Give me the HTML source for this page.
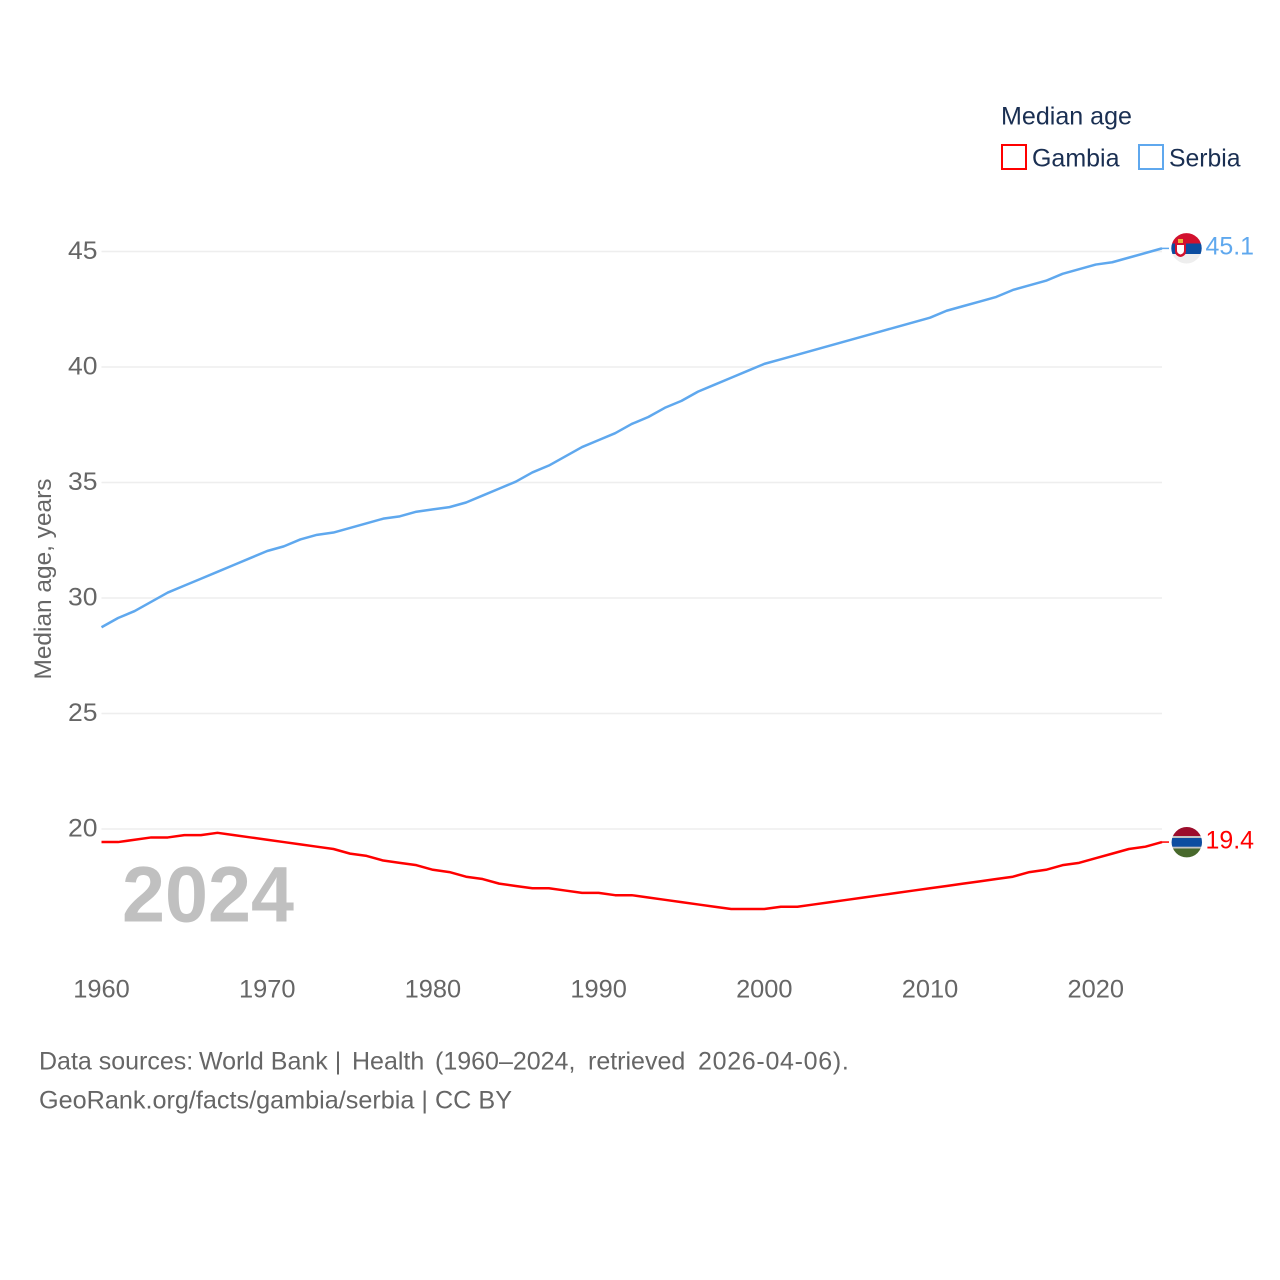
<!DOCTYPE html>
<html>
<head>
<meta charset="utf-8">
<title>Median age: Gambia and Serbia</title>
<style>
html,body{margin:0;padding:0;background:#fff}
svg{display:block}
text{font-family:"Liberation Sans",sans-serif}
</style>
</head>
<body>
<svg id="chart" xmlns="http://www.w3.org/2000/svg" width="1280" height="1280" viewBox="0 0 1280 1280">
  <rect x="0" y="0" width="1280" height="1280" fill="#fff"/>
  <g id="grid"></g>
  <g id="yticks"></g>
  <g id="xticks"></g>
  <text transform="translate(51 679.5) rotate(-90)" font-size="24.5" fill="#666" textLength="201" lengthAdjust="spacingAndGlyphs">Median age, years</text>
  <text x="122" y="921.5" font-size="79" font-weight="bold" fill="#c0c0c0" textLength="172" lengthAdjust="spacingAndGlyphs">2024</text>
  <g id="series"></g>

  <defs>
    <clipPath id="clip-serbia"><circle cx="1186.5" cy="248.3" r="15.2"/></clipPath>
    <clipPath id="clip-gambia"><circle cx="1186.8" cy="842.2" r="15.2"/></clipPath>
  </defs>
  <g clip-path="url(#clip-serbia)">
    <rect x="1171" y="233" width="31" height="10.5" fill="#d2112e"/>
    <rect x="1171" y="243.5" width="31" height="10.5" fill="#0c4da0"/>
    <rect x="1171" y="254" width="31" height="10" fill="#eeeeee"/>
    <path d="M1175 243h11v8q0 5-5.5 6q-5.5-1-5.5-6z" fill="#d2112e"/>
    <path d="M1177 245h7v5.500q0 3-3.500 4q-3.500-1-3.500-4z" fill="#fff"/>
    <rect x="1178" y="239" width="5" height="4" fill="#e8b93c"/>
  </g>
  <g clip-path="url(#clip-gambia)">
    <rect x="1171" y="826" width="32" height="10" fill="#9c0d2c"/>
    <rect x="1171" y="836" width="32" height="12.5" fill="#c4c4c4"/>
    <rect x="1171" y="838" width="32" height="8.7" fill="#0c4da0"/>
    <rect x="1171" y="848.5" width="32" height="10.5" fill="#48692c"/>
  </g>

  <text id="label-serbia" x="1205.5" y="254.5" font-size="25" fill="#5fa8ee" textLength="48.5" lengthAdjust="spacingAndGlyphs"></text>
  <text id="label-gambia" x="1205.5" y="848.5" font-size="25" fill="#ff0000" textLength="48.5" lengthAdjust="spacingAndGlyphs"></text>

  <g>
    <text x="1001" y="124.5" font-size="25" fill="#1a2f52" textLength="131" lengthAdjust="spacingAndGlyphs">Median age</text>
    <g>
      <rect x="1002" y="145" width="24" height="24" fill="#fff" stroke="#ff0000" stroke-width="2"/>
      <text x="1032" y="166.5" font-size="25" fill="#1a2f52" textLength="87.5" lengthAdjust="spacingAndGlyphs">Gambia</text>
    </g>
    <g>
      <rect x="1139" y="145" width="24" height="24" fill="#fff" stroke="#5fa8ee" stroke-width="2"/>
      <text x="1169" y="166.5" font-size="25" fill="#1a2f52" textLength="71.5" lengthAdjust="spacingAndGlyphs">Serbia</text>
    </g>
  </g>

  <text x="39" y="1069.5" font-size="25" fill="#666">Data sources: <tspan x="199">World Bank | </tspan><tspan x="352">Health </tspan><tspan x="435">(1960–2024, </tspan><tspan x="588">retrieved </tspan><tspan x="698" letter-spacing="0.7">2026-04-06).</tspan></text>
  <text x="39" y="1108.5" font-size="25" fill="#666" textLength="473" lengthAdjust="spacingAndGlyphs">GeoRank.org/facts/gambia/serbia | CC BY</text>
</svg>
<script>
const firstYear = 1960;
const xTickLabels = [1960, 1970, 1980, 1990, 2000, 2010, 2020];
const yTickLabels = [20, 25, 30, 35, 40, 45];
const serbiaValues = [28.7,29.1,29.4,29.8,30.2,30.5,30.8,31.1,31.4,31.7,32.0,32.2,32.5,32.7,32.8,33.0,33.2,33.4,33.5,33.7,33.8,33.9,34.1,34.4,34.7,35.0,35.4,35.7,36.1,36.5,36.8,37.1,37.5,37.8,38.2,38.5,38.9,39.2,39.5,39.8,40.1,40.3,40.5,40.7,40.9,41.1,41.3,41.5,41.7,41.9,42.1,42.4,42.6,42.8,43.0,43.3,43.5,43.7,44.0,44.2,44.4,44.5,44.7,44.9,45.1];
const gambiaValues = [19.4,19.4,19.5,19.6,19.6,19.7,19.7,19.8,19.7,19.6,19.5,19.4,19.3,19.2,19.1,18.9,18.8,18.6,18.5,18.4,18.2,18.1,17.9,17.8,17.6,17.5,17.4,17.4,17.3,17.2,17.2,17.1,17.1,17.0,16.9,16.8,16.7,16.6,16.5,16.5,16.5,16.6,16.6,16.7,16.8,16.9,17.0,17.1,17.2,17.3,17.4,17.5,17.6,17.7,17.8,17.9,18.1,18.2,18.4,18.5,18.7,18.9,19.1,19.2,19.4];

const NS = 'http://www.w3.org/2000/svg';
function xScale(year) { return 101.5 + (year - 1960) * (1162 - 101.5) / 64; }
function yScale(value) { return 829 - (value - 20) * 23.1; }
function make(tag, parent, attrs) {
  const el = document.createElementNS(NS, tag);
  for (const k in attrs) el.setAttribute(k, attrs[k]);
  parent.appendChild(el);
  return el;
}

const grid = document.getElementById('grid');
const yticks = document.getElementById('yticks');
const xticks = document.getElementById('xticks');
const series = document.getElementById('series');

yTickLabels.forEach(function (v) {
  const line = make('line', grid, { x1: 101.5, x2: 1162, y1: yScale(v), y2: yScale(v), stroke: '#eeeeee', 'stroke-width': 1.5 });
  
  
  const t = make('text', yticks, { x: 68, y: yScale(v) + 7.5, 'font-size': 25, fill: '#666', textLength: 29.5, lengthAdjust: 'spacingAndGlyphs' });
  
  
  t.textContent = v;
});

xTickLabels.forEach(function (y) {
  const t = make('text', xticks, { x: xScale(y), y: 997.5, 'font-size': 25, fill: '#666', 'text-anchor': 'middle', textLength: 56.5, lengthAdjust: 'spacingAndGlyphs' });
  
  
  t.textContent = y;
});

function drawSeries(values, color, name) {
  const lift = -0.8;
  const pts = values.map(function (v, i) { return xScale(firstYear + i).toFixed(2) + ',' + (yScale(v) + lift).toFixed(2); });
  const last = values[values.length - 1];
  const lastX = xScale(firstYear + values.length - 1);
  const line = make('polyline', series, { points: pts.join(' '), fill: 'none', stroke: color, 'stroke-width': 2.5, 'stroke-linejoin': 'round' });
  
  
  const conn = make('line', series, { x1: lastX, x2: lastX + 7, y1: yScale(last) + lift, y2: yScale(last) + lift, stroke: color, 'stroke-width': 1.5 });
  
  
  document.getElementById('label-' + name).textContent = last.toFixed(1);
}
drawSeries(serbiaValues, '#5fa8ee', 'serbia');
drawSeries(gambiaValues, '#ff0000', 'gambia');
</script>
</body>
</html>
